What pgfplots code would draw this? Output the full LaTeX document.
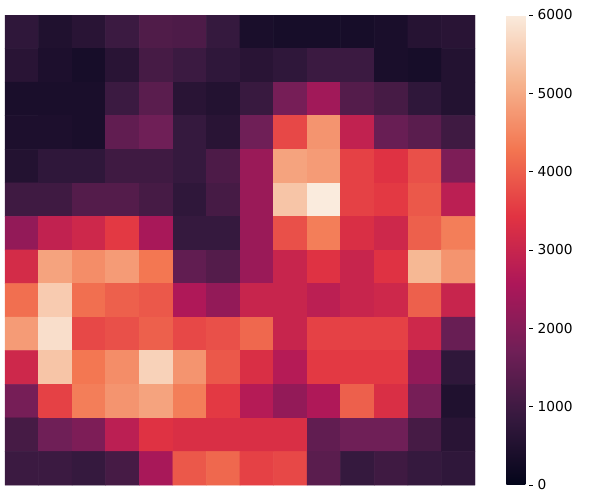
\documentclass[border=0pt]{standalone}
\usepackage{fontspec}
\setmainfont{DejaVu Sans}
\usepackage{pgfplots}
\pgfplotsset{compat=1.18}
\usepackage{pgfplotstable}
\pgfplotstableread{
x y c
0 0 750
1 0 500
2 0 650
3 0 950
4 0 1250
5 0 1200
6 0 850
7 0 400
8 0 350
9 0 350
10 0 350
11 0 400
12 0 600
13 0 650
0 1 650
1 1 450
2 1 350
3 1 650
4 1 1100
5 1 950
6 1 750
7 1 650
8 1 750
9 1 950
10 1 950
11 1 400
12 1 350
13 1 550
0 2 400
1 2 400
2 2 400
3 2 950
4 2 1400
5 2 650
6 2 550
7 2 900
8 2 1800
9 2 2400
10 2 1300
11 2 1100
12 2 750
13 2 550
0 3 450
1 3 450
2 3 400
3 3 1500
4 3 1700
5 3 850
6 3 650
7 3 1700
8 3 3700
9 3 4700
10 3 2900
11 3 1600
12 3 1400
13 3 1000
0 4 550
1 4 750
2 4 750
3 4 1000
4 4 1000
5 4 850
6 4 1200
7 4 2300
8 4 4900
9 4 4800
10 4 3600
11 4 3400
12 4 3800
13 4 1900
0 5 1000
1 5 1000
2 5 1300
3 5 1300
4 5 1100
5 5 750
6 5 1100
7 5 2300
8 5 5400
9 5 6000
10 5 3600
11 5 3500
12 5 3900
13 5 2800
0 6 2200
1 6 2900
2 6 3100
3 6 3500
4 6 2500
5 6 850
6 6 850
7 6 2300
8 6 3800
9 6 4400
10 6 3300
11 6 3100
12 6 4000
13 6 4400
0 7 3200
1 7 4900
2 7 4600
3 7 4800
4 7 4300
5 7 1500
6 7 1300
7 7 2300
8 7 3000
9 7 3400
10 7 3000
11 7 3400
12 7 5200
13 7 4700
0 8 4200
1 8 5500
2 8 4200
3 8 4000
4 8 3900
5 8 2600
6 8 2200
7 8 3000
8 8 3000
9 8 2800
10 8 3000
11 8 3100
12 8 4000
13 8 3000
0 9 4800
1 9 5800
2 9 3700
3 9 3800
4 9 4000
5 9 3700
6 9 3800
7 9 4100
8 9 3000
9 9 3600
10 9 3600
11 9 3600
12 9 3100
13 9 1600
0 10 3100
1 10 5400
2 10 4300
3 10 4600
4 10 5600
5 10 4700
6 10 3900
7 10 3300
8 10 2700
9 10 3500
10 10 3500
11 10 3500
12 10 2200
13 10 750
0 11 1800
1 11 3600
2 11 4400
3 11 4700
4 11 4900
5 11 4400
6 11 3500
7 11 2700
8 11 2200
9 11 2600
10 11 4000
11 11 3300
12 11 1800
13 11 500
0 12 1100
1 12 1700
2 12 1900
3 12 2800
4 12 3400
5 12 3300
6 12 3300
7 12 3300
8 12 3300
9 12 1500
10 12 1700
11 12 1700
12 12 1100
13 12 650
0 13 950
1 13 950
2 13 850
3 13 1100
4 13 2500
5 13 3900
6 13 4100
7 13 3600
8 13 3700
9 13 1400
10 13 850
11 13 1000
12 13 850
13 13 750
}\heat
\begin{document}
\begin{tikzpicture}
\useasboundingbox (-3.75pt,-11.25pt) rectangle (446.25pt,363.75pt);
\begin{axis}[
  at={(0pt,0pt)}, anchor=south west,
  scale only axis, width=352.5pt, height=352.5pt,
  xmin=-0.5, xmax=13.5, ymin=-0.5, ymax=13.5,
  y dir=reverse,
  axis line style={draw=none},
  xtick=\empty, ytick=\empty,
  colormap={rocket}{rgb255(0)=(3,5,26) rgb255(1)=(53,25,62) rgb255(2)=(112,31,87) rgb255(3)=(173,23,89) rgb255(4)=(225,51,66) rgb255(5)=(243,118,81) rgb255(6)=(246,180,143) rgb255(7)=(250,235,221)},
  point meta min=0, point meta max=6000,
  colorbar,
  colorbar style={
    at={(parent axis.north east)}, anchor=north west,
    xshift=15pt,
    scale only axis,
    width=17.25pt, height=352.5pt,
    ytick={0,1000,2000,3000,4000,5000,6000},
    ytick pos=right,
    yticklabel pos=right,
    axis line style={draw=none},
    ytick style={draw=black, line width=0.6pt},
    major tick length=2.6pt,
    tick align=outside,
    yticklabel style={font=\fontsize{10.3}{12}\selectfont, /pgf/number format/1000 sep={}, /pgf/number format/assume math mode=true},
    scaled y ticks=false,
  },
]
\addplot[matrix plot*, mesh/cols=14, point meta=explicit] table[x=x, y=y, meta=c] {\heat};
\end{axis}
\end{tikzpicture}
\end{document}
